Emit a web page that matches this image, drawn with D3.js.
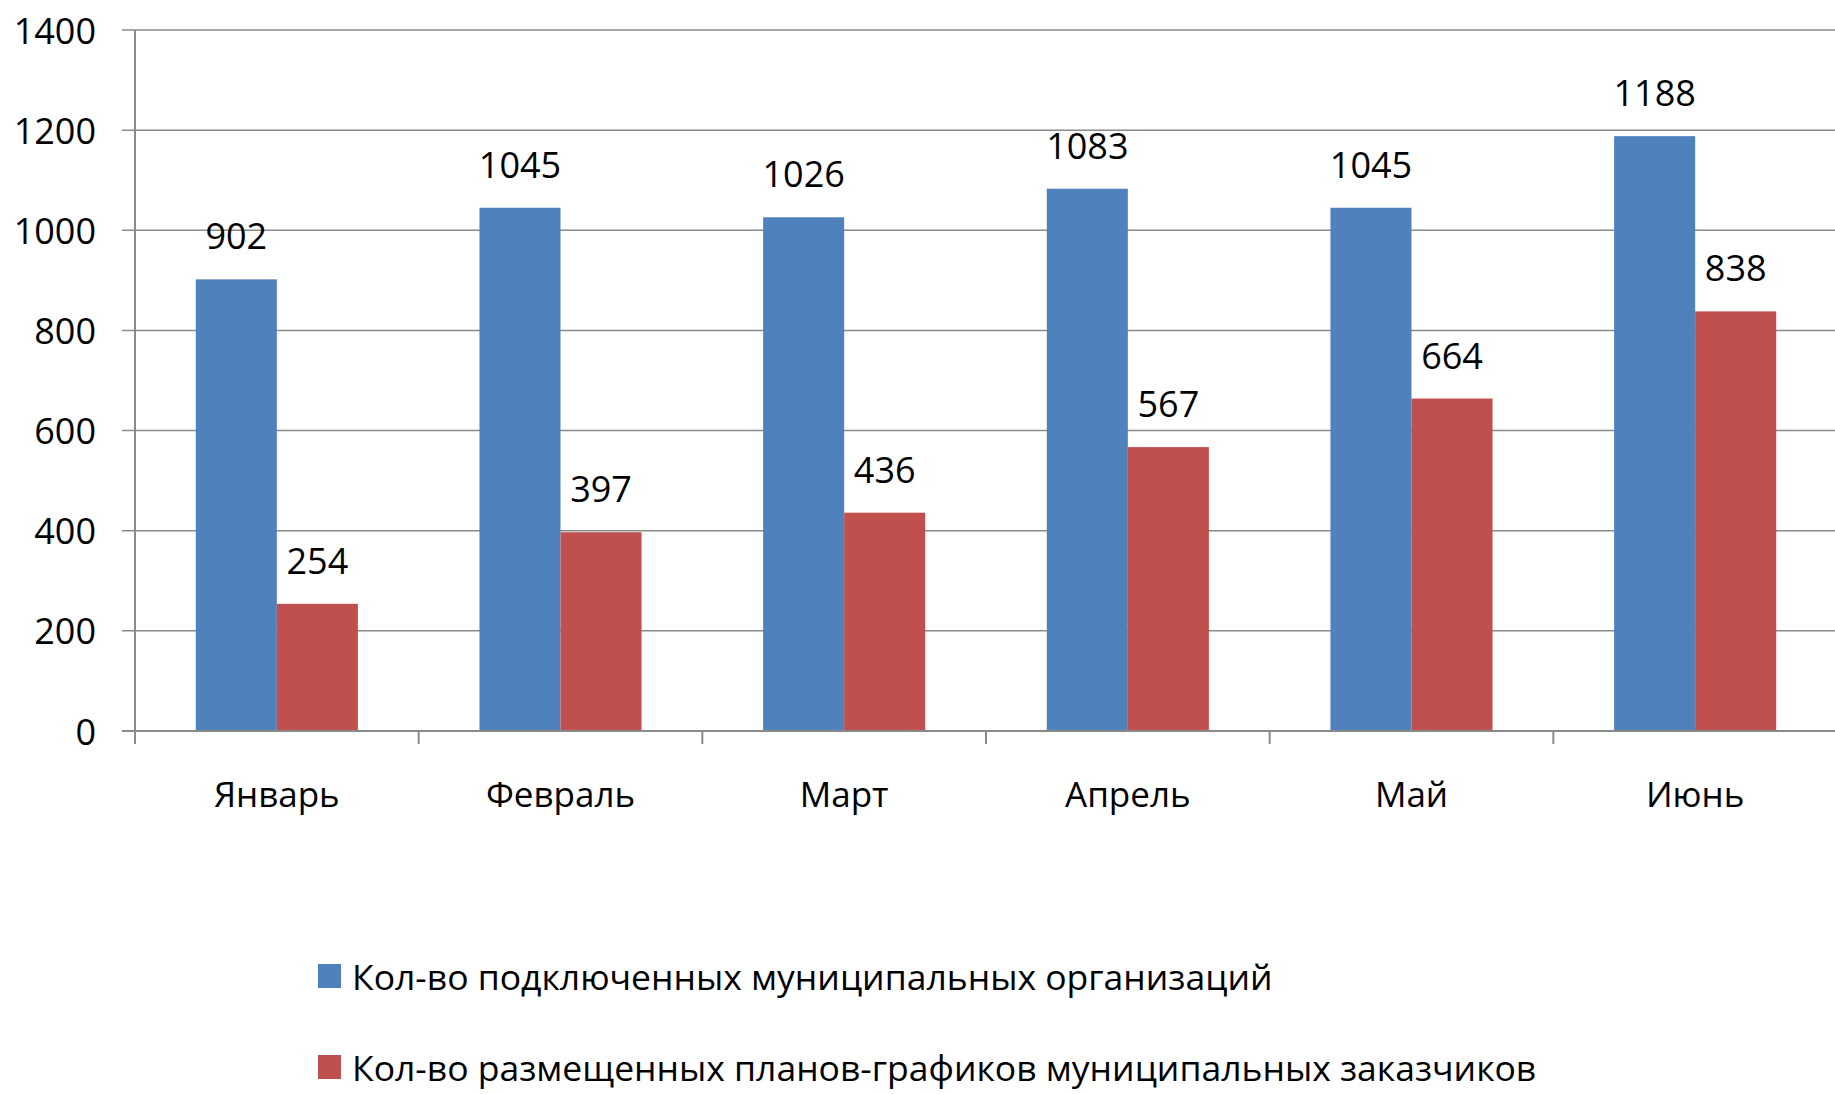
<!DOCTYPE html>
<html>
<head>
<meta charset="utf-8">
<script src="https://cdn.jsdelivr.net/npm/d3@7"></script>
<style>
  body { margin: 0; background: #fff; }
  svg { display: block; font-family: "Open Sans", "Noto Sans", sans-serif; }
</style>
</head>
<body>
<script>
// data
const months = ["Январь", "Февраль", "Март", "Апрель", "Май", "Июнь"];
const seriesNames = [
    "Кол-во подключенных муниципальных организаций",
    "Кол-во размещенных планов-графиков муниципальных заказчиков"
];
const connectedOrgs = [902, 1045, 1026, 1083, 1045, 1188];
const placedPlans = [254, 397, 436, 567, 664, 838];
const yTicks = [0, 200, 400, 600, 800, 1000, 1200, 1400];
const colors = ["#4F81BD", "#C0504D"];

const width = 1835, height = 1094;
const plot = { left: 135, right: 1837, top: 30, bottom: 731 };

const svg = d3.select("body").append("svg")
    .attr("width", width)
    .attr("height", height);

const y = d3.scaleLinear()
    .domain([0, 1400])
    .range([plot.bottom, plot.top]);

const x0 = d3.scaleBand()
    .domain(months)
    .range([plot.left, plot.right])
    .padding(0);

const x1 = d3.scaleBand()
    .domain([0, 1])
    .range([0, x0.bandwidth()])
    .paddingInner(0)
    .paddingOuter(0.75);

// gridlines
svg.append("g")
    .selectAll("line")
    .data(yTicks)
    .enter().append("line")
    .attr("x1", plot.left - 13)
    .attr("x2", plot.right)
    .attr("y1", d => y(d))
    .attr("y2", d => y(d))
    .attr("stroke", "#8a8a8a")
    .attr("stroke-width", 1.5);

// y labels
svg.append("g")
    .selectAll("text")
    .data(yTicks)
    .enter().append("text")
    .attr("x", 96)
    .attr("y", d => y(d))
    .attr("text-anchor", "end")
    .attr("dominant-baseline", "central")
    .attr("font-size", "36px")
    .attr("fill", "#000")
    .text(d => d);

// bars
const series = [connectedOrgs, placedPlans];
series.forEach((vals, s) => {
    svg.append("g")
        .selectAll("rect")
        .data(vals)
        .enter().append("rect")
        .attr("x", (d, i) => x0(months[i]) + x1(s))
        .attr("y", d => y(d))
        .attr("width", x1.bandwidth())
        .attr("height", d => y(0) - y(d))
        .attr("fill", colors[s]);

    svg.append("g")
        .selectAll("text")
        .data(vals)
        .enter().append("text")
        .attr("x", (d, i) => x0(months[i]) + x1(s) + x1.bandwidth() / 2)
        .attr("y", d => y(d) - 30)
        .attr("text-anchor", "middle")
        .attr("font-size", "36px")
        .attr("fill", "#000")
        .text(d => d);
});

// axes lines
svg.append("line")
    .attr("x1", plot.left).attr("x2", plot.left)
    .attr("y1", plot.top).attr("y2", plot.bottom + 13)
    .attr("stroke", "#8a8a8a").attr("stroke-width", 2);

svg.append("line")
    .attr("x1", plot.left - 13).attr("x2", plot.right)
    .attr("y1", plot.bottom).attr("y2", plot.bottom)
    .attr("stroke", "#8a8a8a").attr("stroke-width", 2);

// category ticks
svg.append("g")
    .selectAll("line")
    .data(months)
    .enter().append("line")
    .attr("x1", d => x0(d) + x0.bandwidth())
    .attr("x2", d => x0(d) + x0.bandwidth())
    .attr("y1", plot.bottom)
    .attr("y2", plot.bottom + 13)
    .attr("stroke", "#8a8a8a")
    .attr("stroke-width", 2);

// category labels
svg.append("g")
    .selectAll("text")
    .data(months)
    .enter().append("text")
    .attr("x", d => x0(d) + x0.bandwidth() / 2)
    .attr("y", 807)
    .attr("text-anchor", "middle")
    .attr("font-size", "35px")
    .attr("fill", "#000")
    .text(d => d);

// legend (second row nudged up a little so it fits inside the page)
const legend = svg.append("g");
seriesNames.forEach((name, i) => {
    const ly = 976 + i * 91;
    legend.append("rect")
        .attr("x", 318)
        .attr("y", ly - 12)
        .attr("width", 23)
        .attr("height", 24)
        .attr("fill", colors[i]);
    legend.append("text")
        .attr("x", 352)
        .attr("y", ly)
        .attr("dominant-baseline", "central")
        .attr("font-size", "35.5px")
        .attr("fill", "#000")
        .text(name);
});
</script>
</body>
</html>
